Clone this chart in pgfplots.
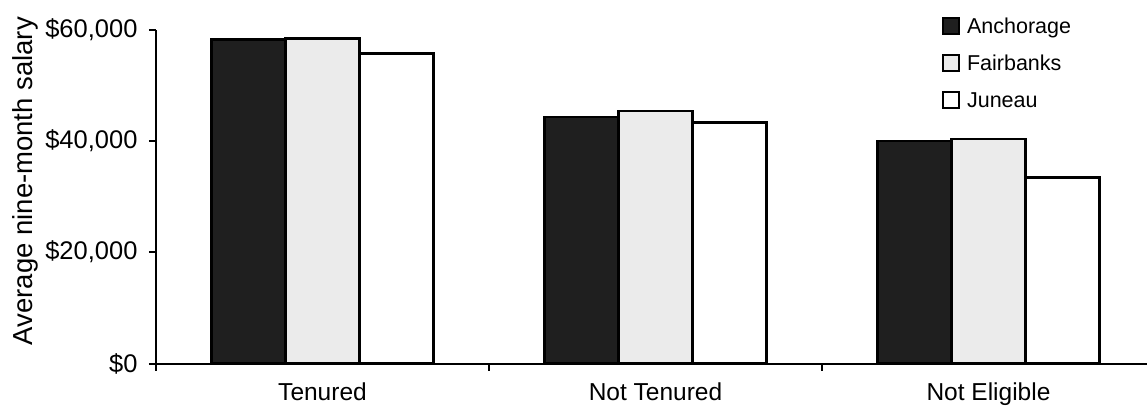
\documentclass[border=0pt]{standalone}
\usepackage{pgfplots}
\pgfplotsset{compat=1.18}
\usepackage{fontspec}
\setmainfont{Liberation Sans}
\begin{document}
\begin{tikzpicture}
\begin{axis}[
  scale only axis,
  width=991bp, height=334bp,
  xmin=-0.5, xmax=2.476,
  ymin=0, ymax=60000,
  scaled y ticks=false,
  axis x line*=bottom, axis y line*=left,
  axis line style={line width=2bp, -},
  ytick={0,20000,40000,60000},
  yticklabels={{\$0},{\$20,000},{\$40,000},{\$60,000}},
  yticklabel style={font=\fontsize{25.5bp}{30bp}\selectfont, xshift=-8bp},
  major tick length=7bp,
  tick align=outside,
  tick style={line width=2bp, black},
  xtick={-0.5,0.5,1.5},
  xticklabels={},
  extra x ticks={0,1,2},
  extra x tick labels={Tenured,Not Tenured,Not Eligible},
  extra x tick style={major tick length=0pt, tick label style={font=\fontsize{24.5bp}{29bp}\selectfont, yshift=-16bp}},
  ylabel={Average nine-month salary},
  ylabel style={font=\fontsize{27.5bp}{32bp}\selectfont, at={(axis description cs:-0.1322,0.546)}, anchor=center},
  legend cell align=left,
  legend style={draw=none, fill=none, at={(axis description cs:0.793,1.04)}, anchor=north west,
    font=\fontsize{21.5bp}{25bp}\selectfont, row sep=16bp, inner sep=0pt},
  legend image code/.code={\path[draw=none, fill=none] (0bp,0bp) -- (22bp,0bp);\draw[#1, line width=2bp] (0bp,-7bp) rectangle (16bp,9bp);},
  clip=false,
]
\addplot[ybar, bar width=0.222, bar shift=-0.222, fill=black!88, draw=black, line width=2.4bp]
  coordinates {(0,58200) (1,44300) (2,40000)};
\addplot[ybar, bar width=0.222, bar shift=0, fill=black!8, draw=black, line width=2.4bp]
  coordinates {(0,58400) (1,45400) (2,40300)};
\addplot[ybar, bar width=0.222, bar shift=0.222, fill=white, draw=black, line width=2.4bp]
  coordinates {(0,55700) (1,43300) (2,33400)};
\legend{Anchorage,Fairbanks,Juneau}
\coordinate (O) at (rel axis cs:0,0);
\end{axis}
\pgfresetboundingbox
\path[use as bounding box] ([shift={(-156bp,-48.5bp)}]O) rectangle ++(1147bp,412bp);
\end{tikzpicture}
\end{document}
